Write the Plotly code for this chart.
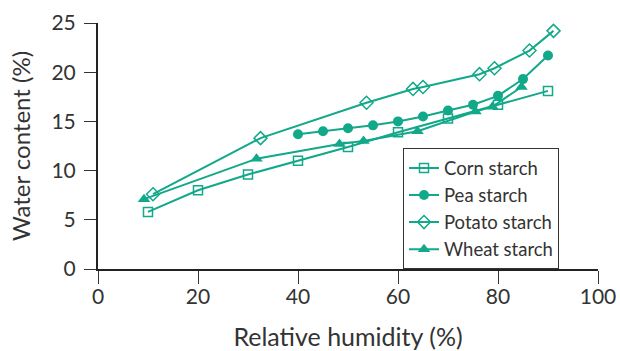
import plotly.graph_objects as go

teal = "#12a88a"

corn_x = [10, 20, 30, 40, 50, 60, 70, 80, 90]
corn_y = [5.8, 8.0, 9.6, 11.0, 12.4, 13.9, 15.3, 16.7, 18.1]

pea_x = [40, 45, 50, 55, 60, 65, 70, 75, 80, 85, 90]
pea_y = [13.7, 14.0, 14.3, 14.6, 15.0, 15.5, 16.1, 16.7, 17.6, 19.3, 21.7]

potato_x = [11, 32.5, 53.7, 63, 65, 76.3, 79.3, 86.3, 91.1]
potato_y = [7.6, 13.3, 16.9, 18.3, 18.5, 19.8, 20.4, 22.2, 24.2]

wheat_x = [9.2, 31.7, 48.3, 53.1, 63.9, 75.5, 78.9, 84.7]
wheat_y = [7.1, 11.2, 12.7, 13.0, 14.0, 16.0, 16.5, 18.5]

names = ["Corn starch", "Pea starch", "Potato starch", "Wheat starch"]

fig = go.Figure()
series = [
    (corn_x, corn_y, names[0], dict(symbol="square-open", size=9, line=dict(width=1.5, color=teal))),
    (pea_x, pea_y, names[1], dict(symbol="circle", size=10)),
    (potato_x, potato_y, names[2], dict(symbol="diamond-open", size=10, line=dict(width=1.5, color=teal))),
    (wheat_x, wheat_y, names[3], dict(symbol="triangle-up", size=11)),
]
for x, y, n, m in series:
    mk = dict(color=teal)
    mk.update(m)
    fig.add_trace(go.Scatter(x=x, y=y, name=n, mode="lines+markers",
                             line=dict(color=teal, width=2), marker=mk))

font = "Lato, 'Open Sans', sans-serif"
fig.update_layout(
    width=620, height=351,
    margin=dict(l=98, r=22, t=23, b=82),
    paper_bgcolor="white", plot_bgcolor="white",
    font=dict(family=font, color="#333333", size=21),
    showlegend=True,
    legend=dict(x=0.61, y=0.49, xanchor="left", yanchor="top",
                bordercolor="#333333", borderwidth=1, bgcolor="white",
                font=dict(size=18.5, color="#333333"), tracegroupgap=0,
                itemwidth=30),
    xaxis=dict(range=[0, 100], tickvals=[0, 20, 40, 60, 80, 100],
               automargin=False, ticklabelstandoff=-5,
               showgrid=False, zeroline=False, showline=True, linecolor="#222222",
               linewidth=2, ticks="outside", ticklen=13, tickwidth=1, tickcolor="#333333",
               title=dict(text="Relative humidity (%)", font=dict(size=25), standoff=23)),
    yaxis=dict(range=[0, 25], tickvals=[0, 5, 10, 15, 20, 25],
               automargin=False, ticklabelstandoff=4,
               showgrid=False, zeroline=False, showline=True, linecolor="#222222",
               linewidth=2, ticks="outside", ticklen=12, tickwidth=1, tickcolor="#333333",
               title=dict(text="Water content (%)", font=dict(size=24), standoff=14)),
)
fig.write_html("out.html",
               config={"displayModeBar": False},
               post_script="document.body.style.margin='0';document.body.style.overflow='hidden';")
